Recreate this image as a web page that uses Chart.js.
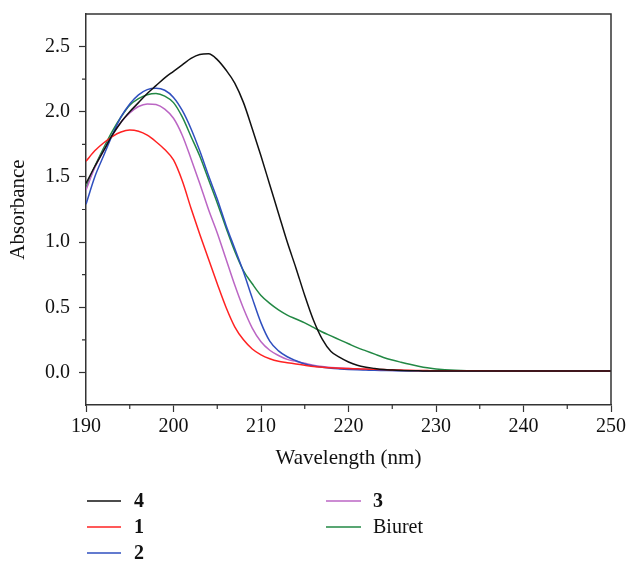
<!DOCTYPE html>
<html>
<head>
<meta charset="utf-8">
<script src="https://cdn.jsdelivr.net/npm/chart.js@4/dist/chart.umd.min.js"></script>
<style>
  html, body { margin: 0; padding: 0; background: #fff; }
  #wrap { width: 627px; height: 561px; position: relative; }
</style>
</head>
<body>
<div id="wrap"><canvas id="c" width="627" height="561"></canvas></div>
<script>
// ---- data ----
const wavelengths = [190,191,192,193,194,195,196,197,198,199,200,
  201,202,203,204,205,206,207,208,209,210,
  211,212,213,214,215,216,217,218,219,220,
  221,222,223,224,225,226,227,228,229,230,
  235,240,245,250];

const seriesLabels = ["4", "1", "2", "3", "Biuret"];

const abs4 = [1.45,1.58,1.70,1.82,1.92,2.00,2.07,2.14,2.20,2.26,2.31,
  2.36,2.41,2.44,2.445,2.40,2.32,2.22,2.07,1.87,1.66,
  1.44,1.22,1.00,0.80,0.59,0.40,0.255,0.16,0.115,0.08,
  0.055,0.04,0.03,0.022,0.018,0.015,0.013,0.012,0.011,0.01,
  0.01,0.01,0.01,0.01];

const abs1 = [1.62,1.70,1.76,1.81,1.845,1.86,1.85,1.82,1.77,1.71,1.63,
  1.47,1.26,1.06,0.87,0.68,0.50,0.35,0.25,0.18,0.135,
  0.105,0.085,0.075,0.065,0.055,0.045,0.04,0.035,0.032,0.03,
  0.028,0.026,0.024,0.022,0.02,0.018,0.016,0.015,0.014,0.013,
  0.012,0.011,0.01,0.01];

const abs2 = [1.29,1.50,1.66,1.82,1.96,2.06,2.13,2.17,2.18,2.165,2.11,
  2.01,1.87,1.70,1.51,1.33,1.13,0.95,0.77,0.57,0.38,
  0.24,0.165,0.12,0.09,0.065,0.05,0.04,0.032,0.027,0.023,
  0.02,0.018,0.016,0.015,0.014,0.013,0.012,0.012,0.011,0.011,
  0.01,0.01,0.01,0.01];

const abs3 = [1.40,1.57,1.70,1.82,1.92,1.99,2.04,2.06,2.055,2.02,1.95,
  1.82,1.64,1.45,1.25,1.07,0.87,0.67,0.49,0.34,0.235,
  0.17,0.13,0.10,0.085,0.07,0.055,0.045,0.038,0.033,0.03,
  0.026,0.022,0.019,0.017,0.015,0.014,0.013,0.012,0.011,0.011,
  0.01,0.01,0.01,0.01];

const absBiuret = [1.42,1.58,1.72,1.85,1.96,2.05,2.10,2.13,2.14,2.12,2.07,
  1.96,1.81,1.66,1.48,1.30,1.11,0.93,0.78,0.68,0.59,
  0.53,0.48,0.44,0.41,0.38,0.345,0.31,0.28,0.25,0.22,
  0.19,0.165,0.14,0.115,0.095,0.078,0.062,0.048,0.036,0.027,
  0.012,0.01,0.01,0.01];

const xTickValues = [190,200,210,220,230,240,250];
const xTickLabels = ["190","200","210","220","230","240","250"];
const xMinorValues = [195,205,215,225,235,245];
const yTickValues = [0,0.5,1.0,1.5,2.0,2.5];
const yTickLabels = ["0.0","0.5","1.0","1.5","2.0","2.5"];
const yMinorValues = [0.25,0.75,1.25,1.75,2.25];

// ---- styles ----
const colors = ["#111111", "#ff2222", "#2f4fbf", "#bb66c4", "#228844"];
const boldLabel = [true, true, true, true, false];
const legendSlots = [
  {x1: 87, x2: 121, tx: 134, y: 501},
  {x1: 87, x2: 121, tx: 134, y: 527},
  {x1: 87, x2: 121, tx: 134, y: 553},
  {x1: 326, x2: 361, tx: 373, y: 501},
  {x1: 326, x2: 361, tx: 373, y: 527}
];
const FONT = "'Liberation Serif', 'DejaVu Serif', serif";
const AXIS = "#333333";

const allSeries = [abs4, abs1, abs2, abs3, absBiuret];
const datasets = allSeries.map((arr, i) => ({
  label: seriesLabels[i],
  data: arr.map((v, k) => ({x: wavelengths[k], y: v})),
  borderColor: colors[i],
  backgroundColor: colors[i],
  borderWidth: 1.5,
  pointRadius: 0,
  fill: false,
  cubicInterpolationMode: 'monotone'
}));

const framePlugin = {
  id: 'frame',
  afterDraw(chart) {
    const {ctx, chartArea: a, scales: {x, y}} = chart;
    ctx.save();
    ctx.strokeStyle = AXIS;
    ctx.lineWidth = 1.5;
    ctx.beginPath();
    ctx.moveTo(a.left, a.top); ctx.lineTo(a.right, a.top); ctx.lineTo(a.right, a.bottom);
    ctx.stroke();
    ctx.lineWidth = 1.2;
    ctx.beginPath();
    xMinorValues.forEach(v => {
      const px = x.getPixelForValue(v);
      ctx.moveTo(px, a.bottom); ctx.lineTo(px, a.bottom + 4);
    });
    yMinorValues.forEach(v => {
      const py = y.getPixelForValue(v);
      ctx.moveTo(a.left, py); ctx.lineTo(a.left - 4, py);
    });
    ctx.stroke();
    // legend
    ctx.textBaseline = 'middle';
    ctx.textAlign = 'left';
    chart.data.datasets.forEach((ds, i) => {
      const s = legendSlots[i];
      ctx.strokeStyle = ds.borderColor;
      ctx.lineWidth = 1.4;
      ctx.beginPath(); ctx.moveTo(s.x1, s.y); ctx.lineTo(s.x2, s.y); ctx.stroke();
      ctx.fillStyle = '#111';
      ctx.font = (boldLabel[i] ? 'bold ' : '') + '20px ' + FONT;
      ctx.fillText(ds.label, s.tx, s.y + 1);
    });
    ctx.restore();
  }
};

new Chart(document.getElementById('c'), {
  type: 'line',
  data: { datasets },
  options: {
    responsive: false,
    animation: false,
    devicePixelRatio: 1,
    layout: { padding: { left: 0, top: 14, right: 16, bottom: 86 } },
    plugins: { legend: { display: false }, tooltip: { enabled: false } },
    scales: {
      x: {
        type: 'linear', min: 190, max: 250,
        afterBuildTicks: s => { s.ticks = xTickValues.map(v => ({value: v})); },
        afterFit: s => { s.height = 70; s.paddingLeft = 0; s.paddingRight = 0; },
        ticks: {
          callback: (v) => xTickLabels[xTickValues.indexOf(v)],
          color: '#111', font: { family: FONT, size: 20 }, padding: 3, maxRotation: 0
        },
        grid: { drawOnChartArea: false, drawTicks: true, tickLength: 7, color: AXIS, tickColor: AXIS, tickWidth: 1.2 },
        border: { display: true, color: AXIS, width: 1.5 },
        title: { display: true, text: 'Wavelength (nm)', color: '#111', font: { family: FONT, size: 21 }, padding: { top: 0, bottom: 4 } }
      },
      y: {
        type: 'linear', min: -0.25, max: 2.75,
        afterBuildTicks: s => { s.ticks = yTickValues.map(v => ({value: v})); },
        afterFit: s => { s.width = 86; s.paddingTop = 0; s.paddingBottom = 0; },
        ticks: {
          callback: (v) => yTickLabels[yTickValues.indexOf(v)],
          color: '#111', font: { family: FONT, size: 20 }, padding: 9
        },
        grid: { drawOnChartArea: false, drawTicks: true, tickLength: 7, color: AXIS, tickColor: AXIS, tickWidth: 1.2 },
        border: { display: true, color: AXIS, width: 1.5 },
        title: { display: true, text: 'Absorbance', color: '#111', font: { family: FONT, size: 21 }, padding: { top: 6, bottom: 0 } }
      }
    }
  },
  plugins: [framePlugin]
});
</script>
</body>
</html>
